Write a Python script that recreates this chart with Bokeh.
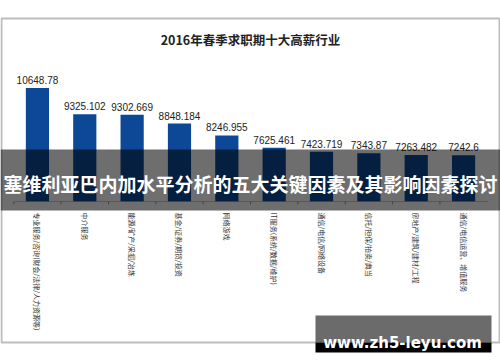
import math
from bokeh.plotting import figure
from bokeh.models import FactorRange, Range1d, BoxAnnotation, Label, ColumnDataSource
from bokeh.transform import dodge
from bokeh.core.properties import value
from bokeh.embed import file_html
from bokeh.resources import INLINE

title_text = "2016年春季求职期十大高薪行业"
banner_text = "塞维利亚巴内加水平分析的五大关键因素及其影响因素探讨"
watermark_text = "www.zh5-leyu.com"

categories = [
    "专业服务/咨询(财会/法律/人力资源等)",
    "中介服务",
    "能源/矿产/采掘/冶炼",
    "基金/证券/期货/投资",
    "网络游戏",
    "IT服务(系统/数据/维护)",
    "通信/电信/网络设备",
    "信托/担保/拍卖/典当",
    "房地产/建筑/建材/工程",
    "通信/电信运营、增值服务",
]
salaries = [10648.78, 9325.102, 9302.669, 8848.184, 8246.955,
            7625.461, 7423.719, 7343.87, 7263.482, 7242.6]

# value axis: base of the bars and visible window
y_base = 4900
y_low = -3260
y_high = 15088
tick_len = 150

CJK = "Noto Sans CJK SC"

src = ColumnDataSource(dict(
    cat=categories,
    val=salaries,
    lab=[str(v) for v in salaries],
    base=[y_base] * len(categories),
    tick_end=[y_base - tick_len] * len(categories),
))

p = figure(
    width=500, height=362,
    x_range=FactorRange(factors=categories, range_padding=0.28,
                        range_padding_units="absolute"),
    y_range=Range1d(y_low, y_high),
    output_backend="svg", toolbar_location=None,
    x_axis_location=None, y_axis_location=None,
    min_border=0,
)
p.outline_line_color = None
p.xgrid.grid_line_color = None
p.ygrid.grid_line_color = None
p.background_fill_color = "white"
p.border_fill_color = "white"

p.vbar(x="cat", top="val", bottom="base", width=0.49, source=src,
       fill_color="#0c4896", line_color=None)
p.text(x="cat", y="val", text="lab", source=src, y_offset=-4,
       text_align="center", text_baseline="bottom",
       text_font=value("Liberation Sans"), text_font_size="10px",
       text_color="#222222")
# category axis labels (vertical, reading top to bottom)
p.text(x="cat", y="base", text="cat", source=src, y_offset=11,
       angle=-math.pi / 2, text_align="left", text_baseline="middle",
       text_font=value(CJK), text_font_size="7px", text_color="#333333")
# axis line and tick marks between categories
p.add_layout(BoxAnnotation(left=14, right=487, top=y_base, bottom=y_base,
                           left_units="canvas", right_units="canvas",
                           fill_color=None, line_color="#999999", line_width=1))
p.segment(x0=dodge("cat", -0.5, range=p.x_range), x1=dodge("cat", -0.5, range=p.x_range),
          y0="base", y1="tick_end", source=src, line_color="#999999", line_width=1)

# banner
p.add_layout(BoxAnnotation(left=0, right=500, top=149, bottom=210,
                           left_units="canvas", right_units="canvas",
                           top_units="canvas", bottom_units="canvas",
                           fill_color="black", fill_alpha=0.57, line_color=None))
p.add_layout(Label(x=250, y=183, x_units="canvas", y_units="canvas",
                   text=banner_text, text_align="center", text_baseline="middle",
                   text_font=CJK, text_font_size="19px", text_font_style="bold",
                   text_color="white"))
# outer frame
p.add_layout(BoxAnnotation(left=1, right=499, top=18, bottom=342,
                           left_units="canvas", right_units="canvas",
                           top_units="canvas", bottom_units="canvas",
                           fill_color=None, line_color="#222222", line_width=2))
# title
p.add_layout(Label(x=250, y=39, x_units="canvas", y_units="canvas",
                   text=title_text, text_align="center", text_baseline="middle",
                   text_font=CJK, text_font_size="12.5px", text_font_style="bold",
                   text_color="#222222"))
# watermark
p.add_layout(BoxAnnotation(left=315, right=491, top=315, bottom=342,
                           left_units="canvas", right_units="canvas",
                           top_units="canvas", bottom_units="canvas",
                           fill_color="#6b6b6b", fill_alpha=1.0, line_color=None))
p.add_layout(BoxAnnotation(left=315, right=491, top=342, bottom=352,
                           left_units="canvas", right_units="canvas",
                           top_units="canvas", bottom_units="canvas",
                           fill_color="black", fill_alpha=1.0, line_color=None))
p.add_layout(Label(x=402, y=342, x_units="canvas", y_units="canvas",
                   text=watermark_text, text_align="center", text_baseline="alphabetic",
                   text_font="DejaVu Sans", text_font_size="15px", text_font_style="bold",
                   text_color="white"))

open("out.html", "w").write(file_html(p, INLINE))
